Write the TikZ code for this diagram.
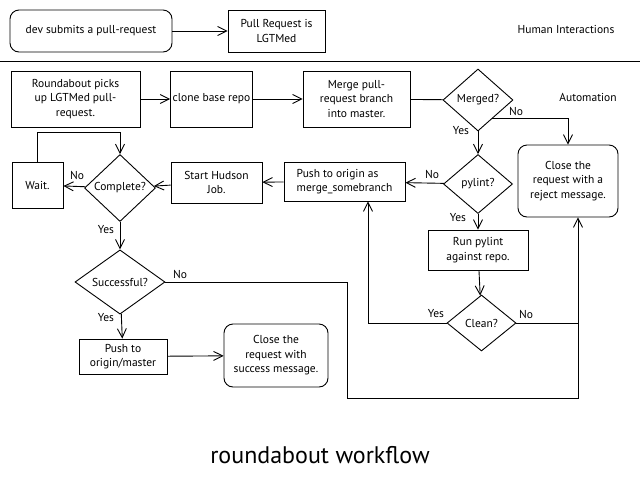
\documentclass[tikz,border=0pt]{standalone}
\usepackage{fontspec}
\setmainfont{PT Sans}
\usepackage{tikz}
\usetikzlibrary{shapes.geometric,arrows.meta,calc}

\begin{document}
\begin{tikzpicture}[x=1pt,y=-1pt,->,>={Straight Barb[length=9pt,width=9pt]},line width=0.9pt,
  font=\fontsize{11.5}{14.5}\selectfont]
  \tikzstyle{box}=[draw,rectangle,align=center,inner sep=2pt]
  \tikzstyle{rbox}=[box,rounded corners=9pt]
  \tikzstyle{test}=[draw,diamond,inner sep=0pt]
  \tikzstyle{lbl}=[inner sep=1pt]
  \useasboundingbox (0,0) rectangle (640,480);

  % human part
  \node[rbox,minimum width=162pt,minimum height=42pt] (dev) at (91,31) {dev submits a pull-request};
  \node[box,minimum width=97pt,minimum height=42pt] (lgtm) at (276.5,31) {Pull Request is\\LGTMed};
  \node (human) at (566,29) {Human Interactions};
  \coordinate (sepl) at (0,61);
  \coordinate (sepr) at (640,61);
  \draw[-] (sepl) -- (sepr);
  \draw (dev) -- (lgtm);

  % automation part
  \node (auto) at (588,97) {Automation};
  \node[box,minimum width=129pt,minimum height=56pt] (pick) at (75.5,99) {Roundabout picks\\up LGTMed pull-\\request.};
  \node[box,minimum width=81pt,minimum height=56pt] (clone) at (211.5,99) {clone base repo};
  \node[box,minimum width=107pt,minimum height=56pt] (merge) at (356.5,99) {Merge pull-\\request branch\\into master.};
  \node[test,minimum width=70pt,minimum height=62pt] (merged) at (478,100) {Merged?};
  \node[rbox,minimum width=100pt,minimum height=72pt] (reject) at (568,181) {Close the\\request with a\\reject message.};
  \node[test,minimum width=69pt,minimum height=59pt] (pylint) at (478,184) {pylint?};
  \node[box,minimum width=121pt,minimum height=39pt,align=left] (push) at (344.5,181.5) {Push to origin as\\merge\_somebranch};
  \node[box,minimum width=91pt,minimum height=41pt] (hudson) at (216.5,182.5) {Start Hudson\\Job.};
  \node[test,minimum width=71pt,minimum height=67pt] (complete) at (120,188) {Complete?};
  \node[box,minimum width=51pt,minimum height=46pt] (wait) at (37.5,185) {Wait.};
  \node[box,minimum width=100pt,minimum height=40pt] (run) at (478,250) {Run pylint\\against repo.};
  \node[test,minimum width=69pt,minimum height=56pt] (clean) at (481.5,323) {Clean?};
  \node[test,minimum width=90pt,minimum height=55pt] (success) at (120,282) {Successful?};
  \node[box,minimum width=88pt,minimum height=35pt] (master) at (123,356.5) {Push to\\origin/master};
  \node[rbox,minimum width=104pt,minimum height=63pt] (done) at (276,355.5) {Close the\\request with\\success message.};

  \coordinate (yesx) at (368,0);
  \coordinate (nox) at (347,398);
  \coordinate (rejx) at (578,398);

  \draw (pick) -- (clone);
  \draw (clone) -- (merge);
  \draw[-] (merge) -- (merged);
  \draw (merged) -- (pylint);
  \draw ($(merged.east)!0.6!(merged.south)$) -| (reject.north);
  \draw (pylint) -- (push);
  \draw (pylint) -- (run);
  \draw (run) -- (clean);
  \draw (clean.west) -| (push.south -| yesx);
  \draw[-] (clean.east) -- (clean.east -| rejx);
  \draw (push) -- (hudson);
  \draw (hudson) -- (complete);
  \draw (complete) -- (wait);
  \draw (wait.north) -- ++(0,-29) -| (complete.north);
  \draw (complete) -- (success);
  \draw (success.east) -| (nox) -- (rejx) -- (reject.south -| rejx);
  \draw (success) -- (master);
  \draw (master) -- (done);

  % yes / no
  \node[lbl] (m-yes) at (461,131) {Yes};
  \node[lbl] (m-no) at (516,111) {No};
  \node[lbl] (p-no) at (432,174) {No};
  \node[lbl] (p-yes) at (458,218) {Yes};
  \node[lbl] (c-no) at (77,175) {No};
  \node[lbl] (c-yes) at (106,230) {Yes};
  \node[lbl] (s-no) at (180,274) {No};
  \node[lbl] (s-yes) at (106,318) {Yes};
  \node[lbl] (k-yes) at (436,314) {Yes};
  \node[lbl] (k-no) at (526,314) {No};

  \node[font=\fontsize{24}{28}\selectfont] (title) at (320,455) {roundabout workflow};
\end{tikzpicture}
\end{document}
